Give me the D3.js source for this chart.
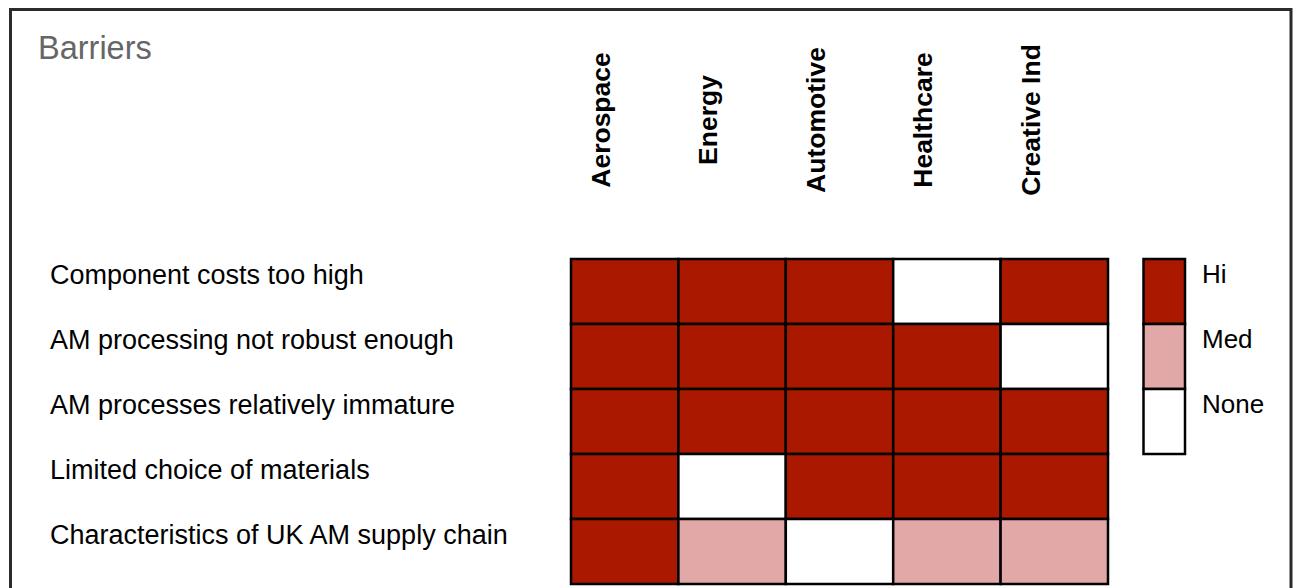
<!DOCTYPE html>
<html>
<head>
<meta charset="utf-8">
<script src="https://cdn.jsdelivr.net/npm/d3@7"></script>
<style>
  html, body { margin: 0; padding: 0; background: #fff; }
  svg { display: block; }
  text { font-family: "Liberation Sans", Arial, Helvetica, sans-serif; }
</style>
</head>
<body>
<svg id="chart" width="1297" height="588"></svg>
<script>
const title = "Barriers";
const sectors = ["Aerospace", "Energy", "Automotive", "Healthcare", "Creative Ind"];
const barriers = [
  "Component costs too high",
  "AM processing not robust enough",
  "AM processes relatively immature",
  "Limited choice of materials",
  "Characteristics of UK AM supply chain"
];
// 2 = Hi, 1 = Med, 0 = None ; one array per barrier, ordered as sectors
const componentCosts   = [2, 2, 2, 0, 2];
const notRobust        = [2, 2, 2, 2, 0];
const immature         = [2, 2, 2, 2, 2];
const limitedMaterials = [2, 0, 2, 2, 2];
const supplyChain      = [2, 1, 0, 1, 1];
const levelLabels = ["Hi", "Med", "None"];
const levelValues = [2, 1, 0];

const matrix = [componentCosts, notRobust, immature, limitedMaterials, supplyChain];

const svg = d3.select("#chart");

// frame
svg.append("rect")
  .attr("x", 10.5).attr("y", 9.5)
  .attr("width", 1280.5).attr("height", 640)
  .attr("fill", "none").attr("stroke", "#2b2b2b").attr("stroke-width", 3);

svg.append("text")
  .attr("x", 38).attr("y", 59)
  .attr("font-size", 32.5).attr("fill", "#666")
  .text(title);

const x = d3.scaleBand().domain(sectors).range([571, 1108]).padding(0);
const y = d3.scaleBand().domain(barriers).range([259, 584]).padding(0);
const color = d3.scaleOrdinal().domain([2, 1, 0]).range(["#aa1800", "#e1a8a7", "#ffffff"]);

// column headers
svg.append("g").selectAll("text")
  .data(sectors).join("text")
  .attr("transform", d => `translate(${x(d) + 39},120) rotate(-90)`)
  .attr("text-anchor", "middle")
  .attr("font-size", 26.5).attr("font-weight", "bold").attr("fill", "#000")
  .text(d => d);

// row labels
svg.append("g").selectAll("text")
  .data(barriers).join("text")
  .attr("x", 50).attr("y", d => y(d) + 25)
  .attr("font-size", 27).attr("fill", "#000")
  .text(d => d);

// cells
const cells = [];
matrix.forEach((row, i) => row.forEach((v, j) => cells.push({ r: barriers[i], c: sectors[j], v })));
svg.append("g").selectAll("rect")
  .data(cells).join("rect")
  .attr("x", d => x(d.c)).attr("y", d => y(d.r))
  .attr("width", x.bandwidth()).attr("height", y.bandwidth())
  .attr("fill", d => color(d.v))
  .attr("stroke", "#000").attr("stroke-width", 2.5);

// legend
const ly = d3.scaleBand().domain(levelLabels).range([259, 259 + y.bandwidth() * 3]);
const lg = svg.append("g");
lg.selectAll("rect")
  .data(levelLabels).join("rect")
  .attr("x", 1143.5).attr("y", d => ly(d))
  .attr("width", 41.5).attr("height", ly.bandwidth())
  .attr("fill", (d, i) => color(levelValues[i]))
  .attr("stroke", "#000").attr("stroke-width", 2.5);
lg.selectAll("text")
  .data(levelLabels).join("text")
  .attr("x", 1202).attr("y", d => ly(d) + 24)
  .attr("font-size", 26).attr("fill", "#000")
  .text(d => d);
</script>
</body>
</html>
